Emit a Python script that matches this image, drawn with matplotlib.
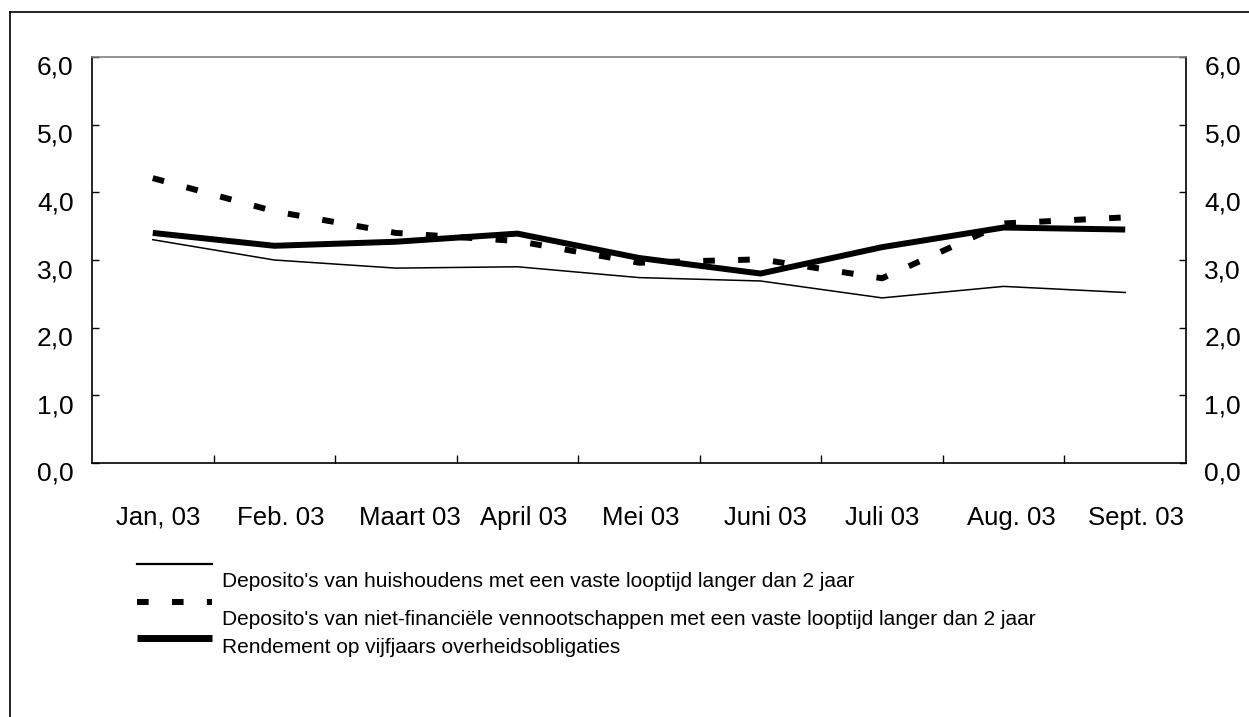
import numpy as np
import matplotlib.pyplot as plt
from matplotlib.lines import Line2D
from matplotlib.transforms import ScaledTranslation

# Data (percent)
months = ['Jan, 03', 'Feb. 03', 'Maart 03', 'April 03', 'Mei 03',
          'Juni 03', 'Juli 03', 'Aug. 03', 'Sept. 03']
huishoudens = [3.30, 3.00, 2.88, 2.90, 2.74, 2.69, 2.44, 2.61, 2.52]
vennootschappen = [4.21, 3.72, 3.40, 3.28, 2.96, 3.01, 2.73, 3.54, 3.63]
obligaties = [3.40, 3.21, 3.27, 3.39, 3.03, 2.80, 3.19, 3.48, 3.45]
series_labels = [
    "Deposito's van huishoudens met een vaste looptijd langer dan 2 jaar",
    "Deposito's van niet-financiële vennootschappen met een vaste looptijd langer dan 2 jaar",
    "Rendement op vijfjaars overheidsobligaties",
]
yticks = [0, 1, 2, 3, 4, 5, 6]
ytick_labels = ['0,0', '1,0', '2,0', '3,0', '4,0', '5,0', '6,0']

FONT = ['Liberation Sans', 'DejaVu Sans']

W, H = 1249, 717
fig = plt.figure(figsize=(W / 100, H / 100), dpi=100)
ax = fig.add_axes([92 / W, 1 - 463 / H, (1186 - 92) / W, (463 - 57) / H])

x = np.arange(len(months))
ax.plot(x, huishoudens, color='black', lw=1.1, zorder=3)
ax.plot(x, obligaties, color='black', lw=4.3, solid_capstyle='butt', zorder=4)
ax.plot(x, vennootschappen, color='black', lw=4.3, dashes=(1.95, 3.9),
        dash_capstyle='butt', zorder=5)

ax.set_xlim(-0.5, len(months) - 0.5)
ax.set_ylim(0, 6)

# x axis: labels per month, tick marks between months
ax.set_xticks(x)
ax.set_xticklabels(months, family=FONT, fontsize=18.5)
ax.set_xticks(np.arange(0.5, len(months) - 1, 1), minor=True)
ax.tick_params(axis='x', which='major', length=0, pad=44.6)
ax.tick_params(axis='x', which='minor', direction='in', length=6, width=1)
shift_x = ScaledTranslation(-37 / 100, 0, fig.dpi_scale_trans)
for lab in ax.get_xticklabels():
    lab.set_horizontalalignment('left')
    lab.set_verticalalignment('baseline')
    lab.set_transform(lab.get_transform() + shift_x)

# y axis labelled on both sides
ax.set_yticks(yticks)
ax.set_yticklabels(ytick_labels, family=FONT, fontsize=19)
ax.yaxis.set_ticks_position('both')
ax.tick_params(axis='y', direction='in', length=5, width=1, pad=13.3,
               labelleft=True, labelright=True)
shift_y = ScaledTranslation(0, -18 / 100, fig.dpi_scale_trans)
for tick in ax.yaxis.get_major_ticks():
    for lab in (tick.label1, tick.label2):
        lab.set_family(FONT)
        lab.set_fontsize(19)
        lab.set_verticalalignment('baseline')
        lab.set_transform(lab.get_transform() + shift_y)

for side in ['left', 'right', 'bottom']:
    ax.spines[side].set_color('black')
    ax.spines[side].set_linewidth(1.2)
ax.spines['top'].set_color('#808080')
ax.spines['top'].set_linewidth(1.2)

# legend under the plot
handle_styles = [
    dict(lw=1.6),
    dict(lw=4.3, dashes=(1.95, 3.9), dash_capstyle='butt'),
    dict(lw=5.0, solid_capstyle='butt'),
]
handle_y = [564, 602, 638]
text_y = [587, 625, 653]
for label, style, hy, ty in zip(series_labels, handle_styles, handle_y, text_y):
    fig.add_artist(Line2D([137 / W, 212 / W], [1 - hy / H, 1 - hy / H],
                          color='black', transform=fig.transFigure, **style))
    fig.text(222 / W, 1 - ty / H, label, fontsize=15, va='baseline',
             ha='left', family=FONT)

# outer frame (left and top edges visible)
fig.add_artist(Line2D([10 / W, 10 / W], [0, 1 - 12 / H], color='black', lw=1.2,
                      transform=fig.transFigure))
fig.add_artist(Line2D([10 / W, 1], [1 - 12 / H, 1 - 12 / H], color='black', lw=1.2,
                      transform=fig.transFigure))

fig.savefig('out.png', dpi=100)
